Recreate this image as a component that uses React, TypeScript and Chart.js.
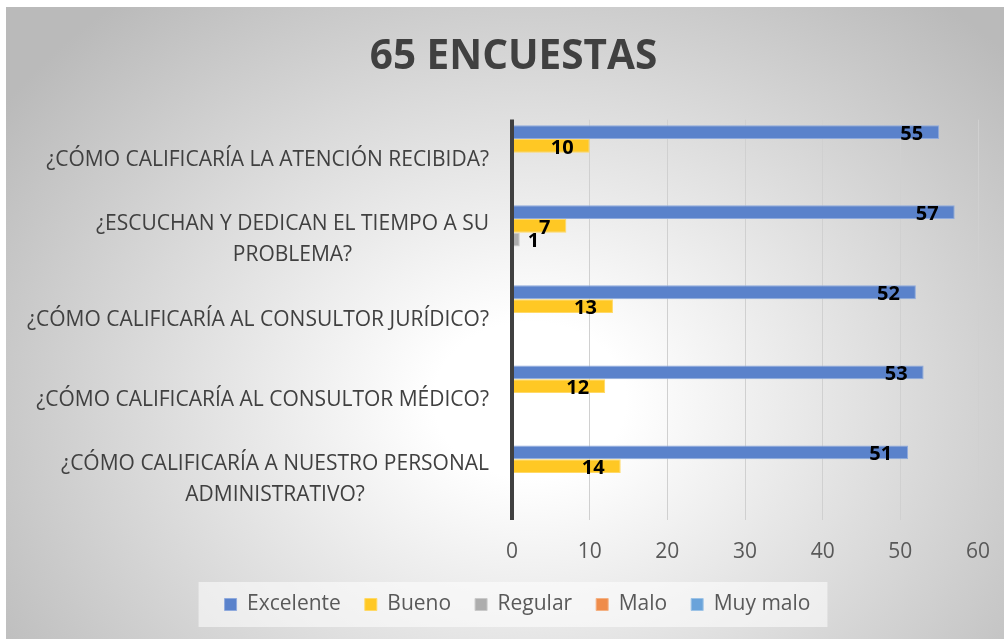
import React, { useEffect, useRef } from 'react';
import { Chart, registerables } from 'chart.js';

Chart.register(...registerables);

// ---- data ----
const categories: string[][] = [
  ['¿CÓMO CALIFICARÍA LA ATENCIÓN RECIBIDA?'],
  ['¿ESCUCHAN Y DEDICAN EL TIEMPO A SU', 'PROBLEMA?'],
  ['¿CÓMO CALIFICARÍA AL CONSULTOR JURÍDICO?'],
  ['¿CÓMO CALIFICARÍA AL CONSULTOR MÉDICO?'],
  ['¿CÓMO CALIFICARÍA A NUESTRO PERSONAL', 'ADMINISTRATIVO?'],
];
const seriesNames = ['Excelente', 'Bueno', 'Regular', 'Malo', 'Muy malo'];
const excelente = [55, 57, 52, 53, 51];
const bueno = [10, 7, 13, 12, 14];
const regular = [0, 1, 0, 0, 0];
const malo = [0, 0, 0, 0, 0];
const muyMalo = [0, 0, 0, 0, 0];
const xMin = 0;
const xMax = 60;
const xStep = 10;
const titleText = '65 ENCUESTAS';

// ---- styles ----
const fillColors = ['#5A82CB', '#FFC824', '#ADADAD', '#EF8C4A', '#6AA3DA'];
const edgeColors = ['#8FAADD', '#FFD966', '#C9C9C9', '#F4B183', '#9DC3E6'];
const FONT = "'Open Sans', 'DejaVu Sans', sans-serif";

const PAD_LEFT = 49;
const PAD_RIGHT = 26;
const AXIS_X = 512;
const LEGEND_SHIFT = 4;

const backgroundPlugin = {
  id: 'bgPlugin',
  afterLayout(chart: any) {
    const legend = chart.legend;
    if (legend) {
      legend.left += LEGEND_SHIFT;
      legend.right += LEGEND_SHIFT;
    }
  },
  beforeDraw(chart: any) {
    const { ctx, width, height } = chart;
    ctx.save();
    ctx.fillStyle = '#ffffff';
    ctx.fillRect(0, 0, width, height);
    // radial (elliptical) gradient
    const cx = 530, cy = 400, rx = 640, ry = 520;
    ctx.save();
    ctx.beginPath();
    ctx.rect(6, 7, width - 6, height - 7);
    ctx.clip();
    ctx.translate(cx, cy);
    ctx.scale(1, ry / rx);
    const g = ctx.createRadialGradient(0, 0, 0, 0, 0, rx);
    g.addColorStop(0, '#ffffff');
    g.addColorStop(0.15, '#ffffff');
    g.addColorStop(1, '#bababa');
    ctx.fillStyle = g;
    ctx.fillRect(-cx - 10, -cy * (rx / ry) - 10, width * 2, height * 2 * (rx / ry));
    ctx.restore();

    // legend background box
    const legend = chart.legend;
    if (legend && legend.legendHitBoxes && legend.legendHitBoxes.length) {
      const hb = legend.legendHitBoxes;
      let minL = Infinity, maxR = -Infinity;
      hb.forEach((h: any) => {
        minL = Math.min(minL, h.left);
        maxR = Math.max(maxR, h.left + h.width);
      });
      ctx.fillStyle = 'rgba(255,255,255,0.55)';
      ctx.fillRect(minL - 26, legend.top + 12, maxR - minL + 43, 45);
    }
    ctx.restore();
  },
};

const overlayPlugin = {
  id: 'overlayPlugin',
  afterDatasetsDraw(chart: any) {
    const { ctx, chartArea } = chart;
    const xScale = chart.scales.x;
    const yScale = chart.scales.y;
    const x0 = xScale.getPixelForValue(0);

    // vertical axis line
    ctx.save();
    ctx.strokeStyle = '#404040';
    ctx.lineWidth = 4;
    ctx.beginPath();
    ctx.moveTo(x0, chartArea.top);
    ctx.lineTo(x0, chartArea.bottom);
    ctx.stroke();

    // category labels (right aligned block, centered lines)
    ctx.font = `21px ${FONT}`;
    ctx.fillStyle = '#404040';
    ctx.textAlign = 'center';
    ctx.textBaseline = 'middle';
    categories.forEach((lines, i) => {
      const y = yScale.getPixelForTick(i);
      const widest = Math.max(...lines.map((l) => ctx.measureText(l).width));
      const cx = x0 - 23 - widest / 2;
      const n = lines.length;
      lines.forEach((l, j) => {
        ctx.fillText(l, cx, y + (j - (n - 1) / 2) * 31);
      });
    });

    // data labels
    ctx.font = `bold 20px ${FONT}`;
    ctx.fillStyle = '#000000';
    ctx.textBaseline = 'middle';
    chart.data.datasets.forEach((ds: any, di: number) => {
      const meta = chart.getDatasetMeta(di);
      meta.data.forEach((bar: any, i: number) => {
        const v = ds.data[i];
        if (!v) return;
        const text = String(v);
        const tw = ctx.measureText(text).width;
        const barW = bar.x - x0;
        if (barW > tw + 24) {
          ctx.textAlign = 'right';
          ctx.fillText(text, bar.x - 16, bar.y + 2);
        } else {
          ctx.textAlign = 'left';
          ctx.fillText(text, bar.x + 8, bar.y + 2);
        }
      });
    });
    ctx.restore();
  },
};

export default function App() {
  const canvasRef = useRef<HTMLCanvasElement | null>(null);

  useEffect(() => {
    document.body.style.margin = '0';
    const canvas = canvasRef.current;
    if (!canvas) return;
    const seriesData = [excelente, bueno, regular, malo, muyMalo];
    const chart = new Chart(canvas, {
      type: 'bar',
      data: {
        labels: categories.map((c) => c.join(' ')),
        datasets: seriesNames.map((name, k) => ({
          label: name,
          data: seriesData[k],
          backgroundColor: fillColors[k],
          borderColor: edgeColors[k],
          borderWidth: 1,
          categoryPercentage: 0.86,
          barPercentage: 1,
        })),
      },
      options: {
        indexAxis: 'y',
        responsive: false,
        animation: false,
        devicePixelRatio: 1,
        layout: { padding: { left: PAD_LEFT, right: PAD_RIGHT, top: 10, bottom: 14 } },
        plugins: {
          title: {
            display: true,
            text: titleText,
            color: '#404040',
            font: { family: FONT, size: 40.5, weight: 'bold' },
            padding: { top: 23, bottom: 38 },
          },
          legend: {
            position: 'bottom',
            labels: {
              boxWidth: 12,
              boxHeight: 12,
              padding: 24,
              color: '#595959',
              font: { family: FONT, size: 21 },
            },
          },
          tooltip: { enabled: false },
        },
        scales: {
          x: {
            type: 'linear',
            min: xMin,
            max: xMax,
            ticks: {
              stepSize: xStep,
              color: '#595959',
              padding: 19,
              font: { family: FONT, size: 21 },
            },
            grid: { color: '#d0d0d0', lineWidth: 1, drawTicks: false },
            border: { display: false },
            afterFit: (s: any) => {
              s.height = 50;
              s.paddingLeft = 0;
              s.paddingRight = 0;
            },
          },
          y: {
            type: 'category',
            ticks: { display: false },
            grid: { display: false },
            border: { display: false },
            afterFit: (s: any) => {
              s.width = AXIS_X - PAD_LEFT;
              s.paddingTop = 0;
              s.paddingBottom = 0;
            },
          },
        },
      },
      plugins: [backgroundPlugin, overlayPlugin],
    } as any);
    return () => chart.destroy();
  }, []);

  return (
    <div style={{ width: 1004, height: 639 }}>
      <canvas ref={canvasRef} width={1004} height={639} style={{ display: 'block' }} />
    </div>
  );
}
